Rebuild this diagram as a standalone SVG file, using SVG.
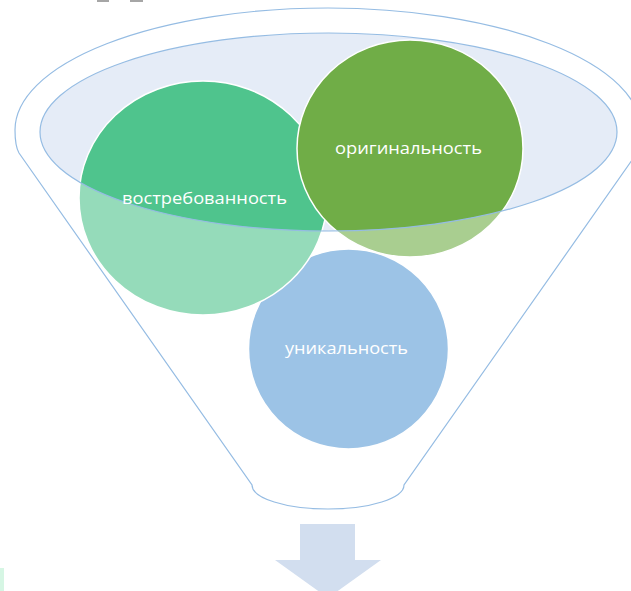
<svg xmlns="http://www.w3.org/2000/svg" width="631" height="591" viewBox="0 0 631 591">
  <style>
    .line { fill: none; stroke: #95BCE3; stroke-width: 1.2; }
    .circ { stroke: #FFFFFF; stroke-width: 1.5; }
    .lbl { font-family: "Open Sans", "Liberation Sans", sans-serif; font-size: 17px; fill: #FFFFFF; text-anchor: middle; }
  </style>
  <rect width="631" height="591" fill="#FFFFFF"/>
  <g id="marks">
    <rect x="97" y="0" width="12" height="2" fill="#A6A6A6"/>
    <rect x="130" y="0" width="13" height="2" fill="#A6A6A6"/>
    <rect x="0" y="568" width="4" height="23" fill="#D6F6E4"/>
  </g>
  <g id="funnel">
    <ellipse cx="328.5" cy="132" rx="288.5" ry="99" fill="#E5ECF7"/>
  </g>
  <g id="node-unikalnost">
    <circle class="circ" cx="348.5" cy="349" r="100" fill="#5B9BD5"/>
  </g>
  <g id="node-vostrebovannost">
    <ellipse class="circ" cx="203" cy="198" rx="124" ry="117" fill="#4FC48D"/>
  </g>
  <g id="node-originalnost">
    <ellipse class="circ" cx="410" cy="148.5" rx="113" ry="108.5" fill="#70AD47"/>
  </g>
  <g id="funnel-overlay">
    <path fill="#FFFFFF" fill-opacity="0.4" fill-rule="evenodd" d="M 15,130 A 313 122 0 0 1 641,130 Q 641,146 637,153 L 404,485 A 76 24 0 0 1 252,485 L 19,153 Q 15,146 15,130 Z M 40,132 A 288.5 99 0 0 0 617,132 A 288.5 99 0 0 0 40,132 Z"/>
    <path class="line" d="M 15,130 A 313 122 0 0 1 641,130 Q 641,146 637,153 L 404,485 A 76 24 0 0 1 252,485 L 19,153 Q 15,146 15,130 Z"/>
    <ellipse class="line" cx="328.5" cy="132" rx="288.5" ry="99"/>
  </g>
  <g id="labels">
    <text class="lbl" x="204.5" y="204" textLength="165" lengthAdjust="spacingAndGlyphs">востребованность</text>
    <text class="lbl" x="408.5" y="154" textLength="147" lengthAdjust="spacingAndGlyphs">оригинальность</text>
    <text class="lbl" x="346.5" y="354" textLength="123" lengthAdjust="spacingAndGlyphs">уникальность</text>
  </g>
  <g id="connectors">
    <path d="M 300,524 L 355,524 L 355,560 L 381,560 L 328,598 L 275,560 L 300,560 Z" fill="#D2DEEF"/>
  </g>
</svg>
